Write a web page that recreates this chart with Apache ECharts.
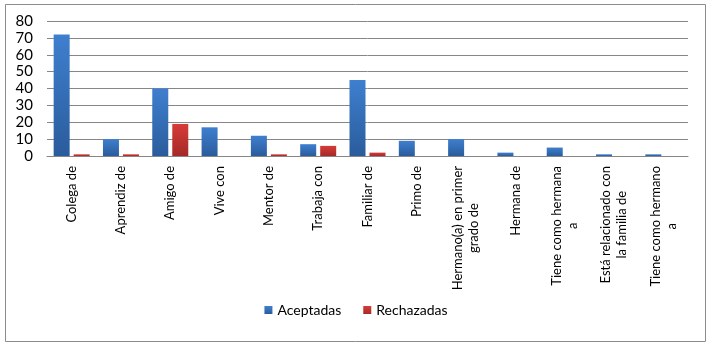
<!DOCTYPE html>
<html>
<head>
<meta charset="utf-8">
<script src="https://cdn.jsdelivr.net/npm/echarts@6/dist/echarts.min.js"></script>
<style>
html,body{margin:0;padding:0;background:#fff;}
#chart{width:712px;height:352px;}
</style>
</head>
<body>
<div id="chart"></div>
<script>
'use strict';
var categorias = ['Colega de', 'Aprendiz de', 'Amigo de', 'Vive con', 'Mentor de',
		'Trabaja con', 'Familiar de', 'Primo de', 'Hermano(a) en primer\ngrado de',
		'Hermana de', 'Tiene como hermana\na', 'Está relacionado con\nla familia de',
		'Tiene como hermano\na'];
var aceptadas  = [72, 10, 40, 17, 12, 7, 45, 9, 10, 2, 5, 1, 1];
var rechazadas = [1, 1, 19, 0, 1, 6, 2, 0, 0, 0, 0, 0, 0];
var ticksY = [0, 10, 20, 30, 40, 50, 60, 70, 80];

var fuente = 'Lato, "Liberation Sans", sans-serif';

function degradado(arriba, abajo){
	return new echarts.graphic.LinearGradient(0, 0, 0, 1, [
		{offset:0, color:arriba},
		{offset:1, color:abajo}
	]);
}

var chart = echarts.init(document.getElementById('chart'));
chart.setOption({
	animation:false,
	backgroundColor:'#fff',
	graphic:[{
		type:'rect',
		shape:{x:5.5, y:4.5, width:700, height:337},
		style:{fill:'none', stroke:'#8c8c8c', lineWidth:1},
		silent:true
	}],
	grid:{left:47, right:24, top:21, bottom:196},
	legend:{
		bottom:30,
		left:'center',
		itemWidth:8,
		itemHeight:8,
		itemGap:22,
		icon:'rect',
		textStyle:{fontFamily:fuente, fontSize:14, color:'#000'},
		data:['Aceptadas', 'Rechazadas']
	},
	xAxis:{
		type:'category',
		data:categorias,
		axisLine:{lineStyle:{color:'#868686'}},
		axisTick:{show:false},
		axisLabel:{
			interval:0,
			rotate:90,
			margin:10,
			color:'#000',
			fontFamily:fuente,
			fontSize:13,
			lineHeight:16,
			formatter:function(v){
				return v.split('\n').map(function(l){ return '{c|' + l + '}'; }).join('\n');
			},
			rich:{c:{align:'center', fontFamily:fuente, fontSize:13, lineHeight:16, color:'#000'}}
		}
	},
	yAxis:{
		type:'value',
		min:ticksY[0],
		max:ticksY[ticksY.length - 1],
		interval:10,
		axisLine:{show:false},
		axisTick:{show:false},
		splitLine:{lineStyle:{color:'#868686', width:1}},
		axisLabel:{color:'#000', fontFamily:fuente, fontSize:15, margin:14}
	},
	series:[{
		name:'Aceptadas',
		type:'bar',
		data:aceptadas,
		barWidth:16,
		barGap:'25%',
		itemStyle:{color:degradado('#3f7fcf', '#2a5c9c')}
	},{
		name:'Rechazadas',
		type:'bar',
		data:rechazadas,
		barWidth:16,
		barGap:'25%',
		itemStyle:{color:degradado('#d63c39', '#a52a28')}
	}]
});
</script>
</body>
</html>
